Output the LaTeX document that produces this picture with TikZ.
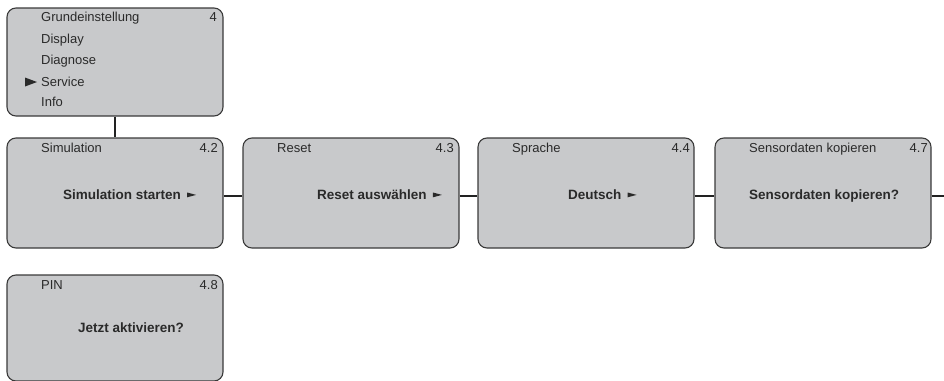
\documentclass[tikz,border=0pt]{standalone}
\usepackage{fontspec}
\setmainfont{Liberation Sans}
\usetikzlibrary{calc}
\definecolor{boxfill}{HTML}{C8C9CB}
\definecolor{boxline}{HTML}{3A3A3A}
\definecolor{connline}{HTML}{222222}
\definecolor{txt}{HTML}{2A2A2A}
\tikzset{
  menubox/.style={draw=boxline, fill=boxfill, rounded corners=9pt, line width=1.1pt,
    minimum width=216pt, minimum height=110pt, inner sep=0pt},
  conn/.style={draw=connline, line width=2.2pt},
  ttl/.style={anchor=base west, inner sep=0pt, text=txt, font=\fontsize{13}{15}\selectfont},
  num/.style={anchor=base east, inner sep=0pt, text=txt, font=\fontsize{13}{15}\selectfont},
  big/.style={anchor=base west, inner sep=0pt, text=txt, font=\bfseries\fontsize{13.5}{15}\selectfont},
  tri/.style={fill=txt}
}
\newcommand{\pointer}[1]{\fill[tri] ($(#1.base east)+(6,-2.2)$) -- ($(#1.base east)+(15,-4.6)$) -- ($(#1.base east)+(6,-7.0)$) -- cycle;}
\begin{document}
\begin{tikzpicture}[x=1pt,y=-1pt]
\clip (0,0) rectangle (944,380);
% boxes
\node[menubox, minimum height=108pt] (top) at (115,62) {};
\node[menubox] (b1) at (115,193) {};
\node[menubox] (b2) at (351,193) {};
\node[menubox] (b3) at (586,193) {};
\node[menubox] (b4) at (823,193) {};
\node[menubox, minimum height=106pt] (pin) at (115,328) {};
% connectors
\coordinate (rend) at (944,196);
\draw[conn] (top.south) -- (b1.north);
\draw[conn] ([yshift=-3pt]b1.east) -- ([yshift=-3pt]b2.west);
\draw[conn] ([yshift=-3pt]b2.east) -- ([yshift=-3pt]b3.west);
\draw[conn] ([yshift=-3pt]b3.east) -- ([yshift=-3pt]b4.west);
\draw[conn] ([yshift=-3pt]b4.east) -- (rend);
% top menu
\node[ttl] (m1) at (41,21.7) {Grundeinstellung};
\node[num] (m0) at (217,21.7) {4};
\node[ttl] (m2) at (41,43.5) {Display};
\node[ttl] (m3) at (41,64.8) {Diagnose};
\node[ttl] (m4) at (41,86.2) {Service};
\node[ttl] (m5) at (41,106.2) {Info};
\fill[tri] (25,77.5) -- (37,82) -- (25,86.5) -- cycle;
% box 1
\node[ttl] (t1) at (41,152.5) {Simulation};
\node[num] (n1) at (218,152.5) {4.2};
\node[big] (s1) at (63,199.5) {Simulation starten};
\pointer{s1}
% box 2
\node[ttl] (t2) at (277,152.5) {Reset};
\node[num] (n2) at (454,152.5) {4.3};
\node[big] (s2) at (317,199.5) {Reset auswählen};
\pointer{s2}
% box 3
\node[ttl] (t3) at (512,152.5) {Sprache};
\node[num] (n3) at (690,152.5) {4.4};
\node[big] (s3) at (568,199.5) {Deutsch};
\pointer{s3}
% box 4
\node[ttl] (t4) at (749,152.5) {Sensordaten kopieren};
\node[num] (n4) at (928,152.5) {4.7};
\node[big] (s4) at (749,199.5) {Sensordaten kopieren?};
% PIN
\node[ttl] (t5) at (41,289.5) {PIN};
\node[num] (n5) at (218,289.5) {4.8};
\node[big] (s5) at (78,332.5) {Jetzt aktivieren?};
\end{tikzpicture}
\end{document}
